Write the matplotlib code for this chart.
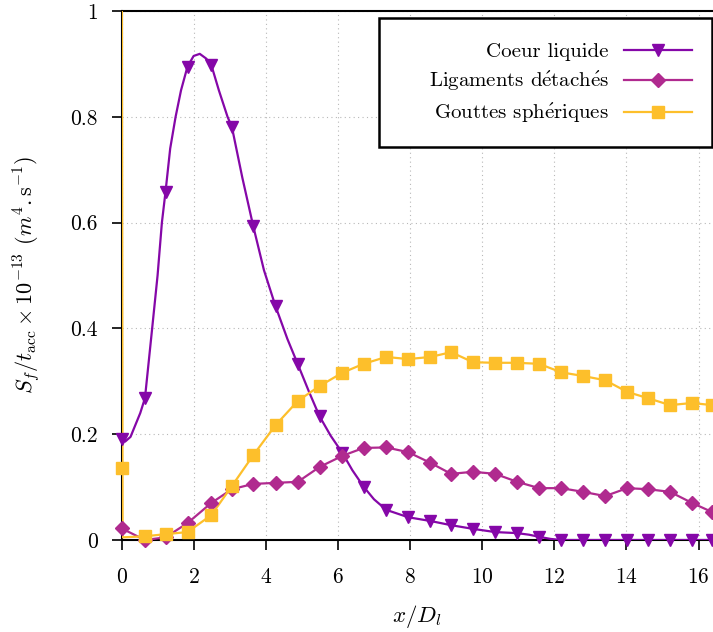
import matplotlib
matplotlib.use("Agg")
import matplotlib.pyplot as plt
from matplotlib.patches import Rectangle

plt.rcParams['font.family'] = ['cmr10', 'DejaVu Serif']
plt.rcParams['mathtext.fontset'] = 'cm'
plt.rcParams['axes.formatter.use_mathtext'] = True

# marker positions (x/D_l) shared by the three curves
x_mk = [0.0, 0.65, 1.22, 1.83, 2.49, 3.06, 3.65, 4.27, 4.89, 5.49, 6.12, 6.71, 7.34, 7.95,
        8.56, 9.14, 9.75, 10.36, 10.97, 11.58, 12.19, 12.80, 13.41, 14.02, 14.60, 15.21,
        15.82, 16.37]

coeur_mk = [0.19, 0.268, 0.658, 0.895, 0.898, 0.781, 0.594, 0.442, 0.332, 0.234, 0.165,
            0.101, 0.057, 0.043, 0.036, 0.028, 0.021, 0.015, 0.013, 0.006, 0.0, 0.0, 0.0,
            0.0, 0.0, 0.0, 0.0, 0.0]
ligaments_mk = [0.022, 0.0, 0.005, 0.032, 0.07, 0.096, 0.106, 0.108, 0.11, 0.138, 0.159,
                0.174, 0.175, 0.166, 0.146, 0.125, 0.129, 0.125, 0.11, 0.098, 0.098, 0.091,
                0.083, 0.098, 0.096, 0.091, 0.07, 0.053]
gouttes_mk = [0.136, 0.007, 0.011, 0.015, 0.047, 0.102, 0.16, 0.217, 0.263, 0.291, 0.316,
              0.333, 0.346, 0.342, 0.346, 0.355, 0.336, 0.335, 0.335, 0.333, 0.317, 0.31,
              0.302, 0.28, 0.268, 0.255, 0.259, 0.255]

# line traces (extra points where the curve bends between markers)
coeur_x = [0.0, 0.1, 0.25, 0.4, 0.52, 0.65, 0.85, 1.0, 1.12, 1.22, 1.35, 1.5, 1.65, 1.83,
           2.0, 2.17, 2.35, 2.49, 2.7, 2.94, 3.06, 3.35, 3.65, 3.95, 4.27, 4.6, 4.89, 5.2,
           5.49, 5.8, 6.12, 6.4, 6.71, 7.0, 7.34, 7.95, 8.56, 9.14, 9.75, 10.36, 10.97,
           11.3, 11.58, 11.9, 12.19, 16.4]
coeur_y = [0.19, 0.186, 0.195, 0.22, 0.24, 0.268, 0.4, 0.5, 0.6, 0.658, 0.74, 0.8, 0.85,
           0.895, 0.915, 0.919, 0.91, 0.898, 0.85, 0.8, 0.781, 0.685, 0.594, 0.51, 0.442,
           0.38, 0.332, 0.28, 0.234, 0.197, 0.165, 0.132, 0.101, 0.077, 0.057, 0.043,
           0.036, 0.028, 0.021, 0.015, 0.013, 0.01, 0.006, 0.002, 0.0, 0.0]

ligaments_x = x_mk
ligaments_y = ligaments_mk

gouttes_x = [0.0, 0.03] + x_mk[1:]
gouttes_y = [1.5, 0.005] + gouttes_mk[1:]

labels = ['Coeur liquide', 'Ligaments détachés', 'Gouttes sphériques']
colors = ['#8507a8', '#b02a8f', '#fdbf2b']
markers = ['v', 'D', 's']
msizes = [9, 7, 8.5]

x_ticks = [0, 2, 4, 6, 8, 10, 12, 14, 16]
y_ticks = [0, 0.2, 0.4, 0.6, 0.8, 1]
y_ticklabels = ['0', '0.2', '0.4', '0.6', '0.8', '1']

W, H = 713, 632
fig = plt.figure(figsize=(W / 100, H / 100), dpi=100)
ax = fig.add_axes([121.5 / W, 92 / H, 1 - 121.5 / W, 529 / H])

lines = [(coeur_x, coeur_y, coeur_mk), (ligaments_x, ligaments_y, ligaments_mk),
         (gouttes_x, gouttes_y, gouttes_mk)]
handles = []
for (lx, ly, mk), c, m, ms in zip(lines, colors, markers, msizes):
    ax.plot(lx, ly, color=c, lw=1.6, zorder=3)
    ax.plot(x_mk, mk, linestyle='none', marker=m, ms=ms, color=c, zorder=4, clip_on=False)
    h, = ax.plot([], [], color=c, lw=1.6, marker=m, ms=ms)
    handles.append(h)

ax.set_xlim(0, 16.4)
ax.set_ylim(0, 1)
ax.set_xticks(x_ticks)
ax.set_yticks(y_ticks)
ax.set_yticklabels(y_ticklabels)
ax.tick_params(direction='out', length=7, width=1.2, labelsize=15.5, color='black')
ax.tick_params(axis='x', pad=13)
ax.tick_params(axis='y', pad=10)
ax.grid(True, color='#b8b8b8', linestyle=(0, (1, 3)), linewidth=0.8)
ax.set_axisbelow(True)
for s in ['left', 'bottom', 'top']:
    ax.spines[s].set_linewidth(1.5)
ax.spines['right'].set_visible(False)

ax.set_xlabel(r'$x/D_l$', fontsize=16.5, labelpad=11)
ax.set_ylabel(r'$S_f/t_{\mathrm{acc}}\times 10^{-13}$ $(m^4.\mathrm{s}^{-1})$',
              fontsize=16, labelpad=20)

# legend box drawn by hand, gnuplot style (wide left margin)
box = Rectangle((379 / W, 1 - 147 / H), (712 - 379) / W, (147 - 18) / H,
                transform=fig.transFigure, facecolor='white', edgecolor='black',
                linewidth=1.8, zorder=5)
fig.patches.append(box)

# cmr10 has no precomposed é: draw it with a mathtext accent
shown = [lab.replace('é', r'$\acute{\mathrm{e}}$') for lab in labels]
leg = fig.legend(handles, shown, loc='center right', bbox_to_anchor=(692 / W, 1 - 84 / H),
                 bbox_transform=fig.transFigure, markerfirst=False, frameon=False,
                 fontsize=15, handlelength=3.25, labelspacing=0.42, borderpad=0,
                 handletextpad=0.75, borderaxespad=0)
leg.set_zorder(6)
leg._legend_box.align = 'right'

fig.savefig('out.png', dpi=100)
